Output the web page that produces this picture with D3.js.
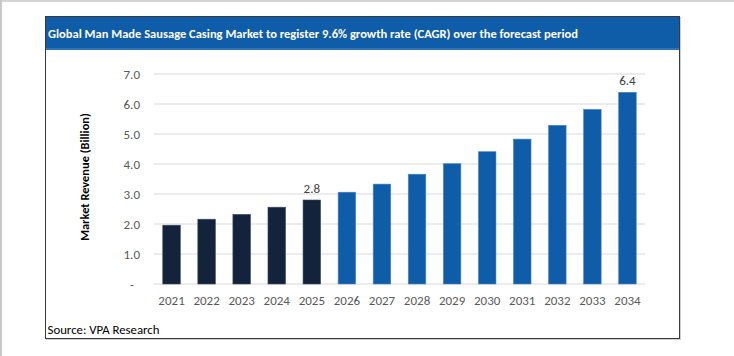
<!DOCTYPE html>
<html><head><meta charset="utf-8">
<script src="https://cdn.jsdelivr.net/npm/d3@7"></script>
<style>html,body{margin:0;padding:0;background:#fff;}svg{display:block;}</style>
</head><body>
<script>
const years = ["2021","2022","2023","2024","2025","2026","2027","2028","2029","2030","2031","2032","2033","2034"];
const revenue = [1.96,2.16,2.32,2.56,2.8,3.06,3.33,3.66,4.01,4.41,4.83,5.29,5.82,6.39];
const historicalYears = ["2021","2022","2023","2024","2025"];
const labeledYears = ["2025","2034"];
const yTicks = [0,1,2,3,4,5,6,7];
const titleText = "Global Man Made Sausage Casing Market to register 9.6% growth rate (CAGR) over the forecast period";
const yAxisTitle = "Market Revenue (Billion)";
const sourceText = "Source: VPA Research";

const W = 734, H = 356;
const svg = d3.select("body").append("svg").attr("width", W).attr("height", H);
const font = "Carlito, Calibri, 'Open Sans', sans-serif";

// page edges
svg.append("rect").attr("x",0).attr("y",0).attr("width",W).attr("height",2).attr("fill","#d4d4d4");
svg.append("rect").attr("x",0).attr("y",0).attr("width",2).attr("height",H).attr("fill","#c8c8c8");

// frame shadow and box
svg.append("rect").attr("x",46.5).attr("y",17.5).attr("width",634).attr("height",322).attr("fill","none").attr("stroke","#cfcfcf").attr("stroke-width",1);
svg.append("rect").attr("x",45.5).attr("y",16.5).attr("width",634).attr("height",322).attr("fill","#fff").attr("stroke","#3a3a3a").attr("stroke-width",1);
// title band
svg.append("rect").attr("x",46).attr("y",17).attr("width",633).attr("height",33).attr("fill","#0f5ca8");
svg.append("rect").attr("x",46).attr("y",48).attr("width",633).attr("height",2).attr("fill","#2f74b8");
svg.append("text").attr("x",48).attr("y",38).attr("fill","#fff").attr("font-family",font)
  .attr("font-weight","bold").attr("font-size",11.5).attr("textLength",530).attr("lengthAdjust","spacingAndGlyphs").text(titleText);

const x = d3.scaleBand().domain(years).range([154,645]).paddingInner(0.5).paddingOuter(0.25);
const y = d3.scaleLinear().domain([0,7]).range([284,74]);

const g = svg.append("g");
// gridlines
g.selectAll("line.grid").data(yTicks).join("line").attr("class","grid")
  .attr("x1",154).attr("x2",645).attr("y1",d=>y(d)).attr("y2",d=>y(d))
  .attr("stroke","#d9d9d9").attr("stroke-width",1.2);

// y axis
const yAxis = d3.axisLeft(y).tickValues(yTicks).tickSize(0).tickPadding(0)
  .tickFormat(d => d===0 ? "-" : d3.format(".1f")(d));
const ya = svg.append("g").attr("transform","translate(140,0)").call(yAxis);
ya.select(".domain").remove();
ya.selectAll("text").attr("font-family",font).attr("font-size",13).attr("fill","#595959").attr("dy","0.35em");
ya.selectAll(".tick").filter(d=>d===0).select("text").attr("dx",-6);

// x axis
const xAxis = d3.axisBottom(x).tickSize(0).tickPadding(0);
const xa = svg.append("g").attr("transform","translate(0,296)").call(xAxis);
xa.select(".domain").remove();
xa.selectAll("text").attr("font-family",font).attr("font-size",13).attr("fill","#595959").attr("dy","0.71em");

// bars
g.selectAll("rect.bar").data(years.map((yr,i)=>({yr, v:revenue[i]}))).join("rect").attr("class","bar")
  .attr("x",d=>x(d.yr)).attr("width",x.bandwidth())
  .attr("y",d=>y(d.v)).attr("height",d=>y(0)-y(d.v))
  .attr("fill",d=>historicalYears.includes(d.yr) ? "#14233c" : "#0f5ca8")
  .attr("stroke",d=>historicalYears.includes(d.yr) ? "#3c4a60" : "#4a86c4").attr("stroke-width",0.6);

// value labels
g.selectAll("text.val").data(years.map((yr,i)=>({yr, v:revenue[i]})).filter(d=>labeledYears.includes(d.yr))).join("text")
  .attr("class","val").attr("x",d=>x(d.yr)+x.bandwidth()/2).attr("y",d=>y(d.v)-7)
  .attr("text-anchor","middle").attr("font-family",font).attr("font-size",13).attr("fill","#404040")
  .text(d=>d3.format(".1f")(d.v));

// y axis title
svg.append("text").attr("transform","translate(88.5,177) rotate(-90)").attr("text-anchor","middle")
  .attr("font-family",font).attr("font-weight","bold").attr("font-size",12.4).attr("fill","#000").text(yAxisTitle);

// source
svg.append("text").attr("x",47.5).attr("y",334).attr("font-family",font).attr("font-size",12.8).attr("fill","#000").text(sourceText);
</script>
</body></html>
